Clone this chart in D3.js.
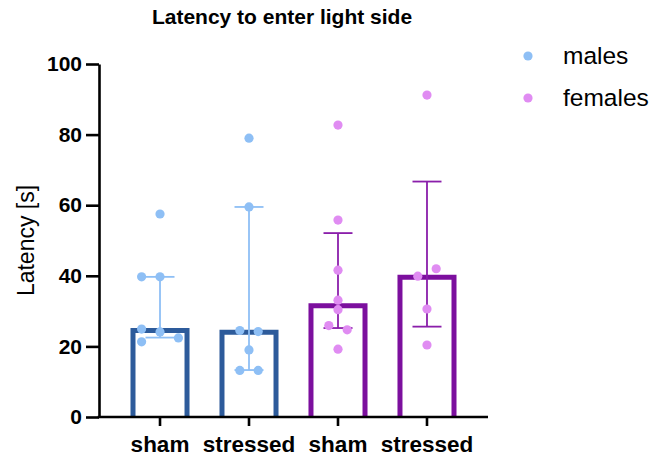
<!DOCTYPE html>
<html>
<head>
<meta charset="utf-8">
<script src="https://cdn.jsdelivr.net/npm/d3@7"></script>
<style>
  html, body { margin: 0; padding: 0; background: #fff; }
  svg { display: block; font-family: "Liberation Sans", Arial, sans-serif; }
</style>
</head>
<body>
<svg id="chart" width="652" height="461"></svg>
<script>
// Groups along the x axis
const groups = ["sham", "stressed", "sham", "stressed"];
const groupSex = ["males", "males", "females", "females"];

// Bar height (median) and interquartile whiskers per group
const medians = [24.5, 24.0, 31.5, 39.6];
const q1 = [22.5, 13.3, 25.2, 25.6];
const q3 = [39.7, 59.5, 52.1, 66.7];

// Individual animals per group, with a lane index for the dot spread
const pointsShamM = [57.5, 39.7, 39.7, 24.9, 24.1, 21.3, 22.4];
const lanesShamM = [0, -2, 0, -2, 0, -2, 2];
const pointsStressM = [79.0, 59.5, 24.5, 24.2, 19.0, 13.2, 13.2];
const lanesStressM = [0, 0, -1, 1, 0, -1, 1];
const pointsShamF = [82.7, 55.8, 41.6, 33.1, 30.4, 25.9, 24.7, 19.2];
const lanesShamF = [0, 0, 0, 0, 0, -1, 1, 0];
const pointsStressF = [91.2, 39.9, 42.0, 30.6, 20.4];
const lanesStressF = [0, -1, 1, 0, 0];

const yTicks = [0, 20, 40, 60, 80, 100];
const legendLabels = ["males", "females"];

const groupPoints = [pointsShamM, pointsStressM, pointsShamF, pointsStressF];
const groupLanes = [lanesShamM, lanesStressM, lanesShamF, lanesStressF];

const colors = {
  males:   { bar: "#2d5b9b", dot: "#8ebff5", whisker: "#8ebff5" },
  females: { bar: "#7c0f9e", dot: "#e08cf2", whisker: "#8a1eaa" }
};

const svg = d3.select("#chart");
const plotL = 99, plotR = 488, plotT = 64, plotB = 417;

const x = d3.scaleBand()
  .domain(d3.range(groups.length))
  .range([plotL, plotR])
  .paddingInner(0.393)
  .paddingOuter(0.382);

const y = d3.scaleLinear().domain([0, 100]).range([plotB, plotT]);

const laneStep = 9.2;
const cx = i => x(i) + x.bandwidth() / 2;

// Bars: white fill, thick outline open at the baseline
const bars = svg.append("g");
groups.forEach((g, i) => {
  const c = colors[groupSex[i]];
  const x0 = x(i), x1 = x(i) + x.bandwidth();
  bars.append("rect")
    .attr("x", x0).attr("y", y(medians[i]))
    .attr("width", x.bandwidth()).attr("height", y(0) - y(medians[i]))
    .attr("fill", "#fff");
  bars.append("path")
    .attr("d", `M${x0},${y(0)}V${y(medians[i])}H${x1}V${y(0)}`)
    .attr("fill", "none")
    .attr("stroke", c.bar)
    .attr("stroke-width", 5)
    .attr("stroke-linejoin", "miter");
});

// Interquartile whiskers
const whiskers = svg.append("g");
const capHalf = 14.5;
groups.forEach((g, i) => {
  const c = colors[groupSex[i]];
  const xc = cx(i);
  whiskers.append("line")
    .attr("x1", xc).attr("x2", xc)
    .attr("y1", y(q3[i])).attr("y2", y(q1[i]))
    .attr("stroke", c.whisker).attr("stroke-width", 1.8);
  [q1[i], q3[i]].forEach(v => {
    whiskers.append("line")
      .attr("x1", xc - capHalf).attr("x2", xc + capHalf)
      .attr("y1", y(v)).attr("y2", y(v))
      .attr("stroke", c.whisker).attr("stroke-width", 1.8);
  });
});

// Individual points
const dots = svg.append("g");
groups.forEach((g, i) => {
  const c = colors[groupSex[i]];
  dots.selectAll(null)
    .data(groupPoints[i].map((v, k) => ({ v, lane: groupLanes[i][k] })))
    .join("circle")
    .attr("cx", d => cx(i) + d.lane * laneStep)
    .attr("cy", d => y(d.v))
    .attr("r", 4.6)
    .attr("fill", c.dot);
});

// Y axis
const yAxis = svg.append("g")
  .attr("transform", `translate(${plotL},0)`)
  .call(d3.axisLeft(y).tickValues(yTicks).tickSize(13).tickSizeOuter(0).tickPadding(4));
yAxis.select(".domain").attr("stroke", "#000").attr("stroke-width", 2.6);
yAxis.selectAll(".tick line").attr("stroke", "#000").attr("stroke-width", 2.6);
yAxis.selectAll(".tick text")
  .attr("font-family", "Liberation Sans, Arial, sans-serif")
  .attr("font-size", 21).attr("font-weight", "bold").attr("fill", "#000");

// X axis
const xAxis = svg.append("g")
  .attr("transform", `translate(0,${plotB})`)
  .call(d3.axisBottom(x).tickFormat(i => groups[i]).tickSize(9).tickSizeOuter(0).tickPadding(10));
xAxis.select(".domain").attr("stroke", "#000").attr("stroke-width", 2.6)
  .attr("d", `M${plotL - 1.3},0H${plotR}`);
xAxis.selectAll(".tick line").attr("stroke", "#000").attr("stroke-width", 2.6);
xAxis.selectAll(".tick text")
  .attr("font-family", "Liberation Sans, Arial, sans-serif")
  .attr("font-size", 22.5).attr("font-weight", "bold").attr("fill", "#000");

// Title
svg.append("text")
  .attr("x", 282).attr("y", 24)
  .attr("text-anchor", "middle")
  .attr("font-size", 21).attr("font-weight", "bold")
  .text("Latency to enter light side");

// Y axis label
svg.append("text")
  .attr("transform", `translate(34,${(plotT + plotB) / 2}) rotate(-90)`)
  .attr("text-anchor", "middle")
  .attr("font-size", 23)
  .text("Latency [s]");

// Legend
const legend = svg.append("g");
legendLabels.forEach((lab, k) => {
  const yy = 56 + k * 42;
  legend.append("circle").attr("cx", 528).attr("cy", yy).attr("r", 4.6)
    .attr("fill", colors[lab].dot);
  legend.append("text").attr("x", 563).attr("y", yy + 8)
    .attr("font-size", 24.5).text(lab);
});
</script>
</body>
</html>
